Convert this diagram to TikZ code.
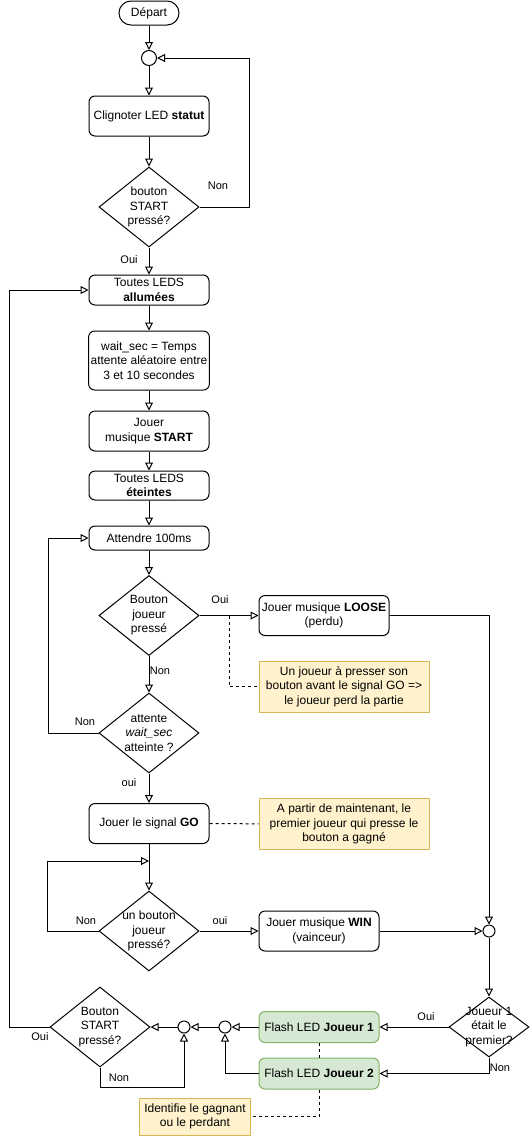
\documentclass[tikz,border=0pt]{standalone}
\usepackage{fontspec}
\setmainfont{Liberation Sans}
\usetikzlibrary{arrows.meta,shapes.geometric}
\definecolor{notefill}{HTML}{FFF2CC}
\definecolor{notedraw}{HTML}{D6B656}
\definecolor{flashfill}{HTML}{D5E8D4}
\definecolor{flashdraw}{HTML}{82B366}
\tikzset{
  box/.style={draw, rounded corners=6pt, align=center, minimum width=120pt, minimum height=40pt, inner sep=2pt},
  note/.style={draw=notedraw, fill=notefill, align=center, minimum width=170pt, minimum height=51pt, inner sep=2pt},
  flash/.style={box, draw=flashdraw, fill=flashfill, minimum height=31pt},
  decision/.style={draw, diamond, aspect=1.25, align=center, inner sep=-4pt, minimum width=100pt, minimum height=80pt},
  merge/.style={draw, circle, inner sep=0pt, minimum size=12pt},
  lbl/.style={font=\fontsize{11}{13}\selectfont, inner sep=0pt},
  flow/.style={-{Triangle[open,length=8pt,width=8pt]}},
  link/.style={dash pattern=on 3pt off 3pt}
}
\begin{document}
\begin{tikzpicture}[x=1pt, y=-1pt, line width=1pt, font=\fontsize{12}{14.5}\selectfont]
\useasboundingbox (0,0) rectangle (530,1136);
% Main column
\node[box, rounded corners=12pt, minimum width=60pt, minimum height=24pt] (depart) at (149,13) {Départ};
\node[merge, minimum size=15pt] (m1) at (149,58) {};
\node[box] (blink) at (149,116) {Clignoter LED \textbf{statut}};
\node[decision] (start) at (149,207) {bouton\\START\\pressé?};
\node[box, minimum height=30pt] (ledson) at (149,290) {Toutes LEDS\\\textbf{allumées}};
\node[box, minimum height=59pt] (wait) at (149,360.5) {wait\_sec = Temps\\attente aléatoire entre\\3 et 10 secondes};
\node[box] (music) at (149,431) {Jouer\\musique \textbf{START}};
\node[box, minimum height=29pt] (ledsoff) at (149,485.5) {Toutes LEDS\\\textbf{éteintes}};
\node[box, minimum height=24pt] (pause) at (149,538) {Attendre 100ms};
\node[decision] (press) at (149,615.5) {Bouton\\joueur\\pressé};
\node[decision] (timeout) at (149,733) {attente\\\textit{wait\_sec}\\atteinte ?};
\node[box] (go) at (149,823.5) {Jouer le signal \textbf{GO}};
\node[decision] (first) at (149,931) {un bouton\\joueur\\pressé?};
% Right column
\node[box, minimum width=130pt] (loose) at (324,615.5) {Jouer musique \textbf{LOOSE}\\(perdu)};
\node[box] (win) at (319,931) {Jouer musique \textbf{WIN}\\(vainceur)};
\node[merge] (m2) at (489,931) {};
\node[decision, aspect=1.333, minimum width=80pt, minimum height=60pt, inner sep=-12pt] (who) at (489,1027) {Joueur 1\\était le\\premier?};
\node[flash] (flash1) at (319,1027) {Flash LED \textbf{Joueur 1}};
\node[flash] (flash2) at (319,1073.5) {Flash LED \textbf{Joueur 2}};
\node[merge] (m3) at (225,1027) {};
\node[merge] (m4) at (184,1027) {};
\node[decision] (again) at (100,1027) {Bouton\\START\\pressé?};
% Notes
\node[note] (note1) at (344,686.5) {Un joueur à presser son\\bouton avant le signal GO =>\\le joueur perd la partie};
\node[note] (note2) at (344,824) {A partir de maintenant, le\\premier joueur qui presse le\\bouton a gagné};
\node[note, minimum width=111pt, minimum height=37pt] (note3) at (195,1116.5) {Identifie le gagnant\\ou le perdant};
% Draw connectors
\draw[flow] (depart) -- (m1);
\draw[flow] (m1) -- (blink);
\draw[flow] (blink) -- (start);
\draw[flow] (start.east) -- ++(50,0) |- (m1);
\draw[flow] (start) -- (ledson);
\draw[flow] (ledson) -- (wait);
\draw[flow] (wait) -- (music);
\draw[flow] (music) -- (ledsoff);
\draw[flow] (ledsoff) -- (pause);
\draw[flow] (pause) -- (press);
\draw[flow] (press) -- (timeout);
\draw[flow] (press) -- (loose);
\draw[flow] (timeout.west) -- ++(-50,0) |- (pause);
\draw[flow] (timeout) -- (go);
\draw[flow] (go) -- (first);
\coordinate (gojoin) at (149,861);
\draw[flow] (first.west) -- ++(-51,0) |- (gojoin);
\draw[flow] (first) -- (win);
\draw[flow] (win) -- (m2);
\draw[flow] (loose) -| (m2);
\draw[flow] (m2) -- (who);
\draw[flow] (who) -- (flash1);
\draw[flow] (who.south) |- (flash2);
\draw[flow] (flash1) -- (m3);
\draw[flow] (flash2) -| (m3);
\draw[flow] (m3) -- (m4);
\draw[flow] (again.south) -- ++(0,20) -| (m4);
\draw[flow] (m4) -- (again);
\draw[flow] (again.west) -- ++(-40.5,0) |- (ledson);
% Dashed links to notes
\coordinate (tap) at (229,615.5);
\draw[link] (tap) |- (note1);
\draw[link] (go) -- (note2);
\draw[link] (flash1) -- (flash2);
\draw[link] (flash2.south) |- (note3);
% Labels
\node[lbl] (l1) at (218,186) {Non};
\node[lbl] (l2) at (129,260) {Oui};
\node[lbl] (l3) at (220,600) {Oui};
\node[lbl] (l4) at (160,671) {Non};
\node[lbl] (l5) at (85,722) {Non};
\node[lbl] (l6) at (129,783) {oui};
\node[lbl] (l7) at (86,921) {Non};
\node[lbl] (l8) at (220,921) {oui};
\node[lbl] (l9) at (426,1017) {Oui};
\node[lbl] (l10) at (500,1068) {Non};
\node[lbl] (l11) at (40,1037) {Oui};
\node[lbl] (l12) at (119,1078) {Non};
\end{tikzpicture}
\end{document}
